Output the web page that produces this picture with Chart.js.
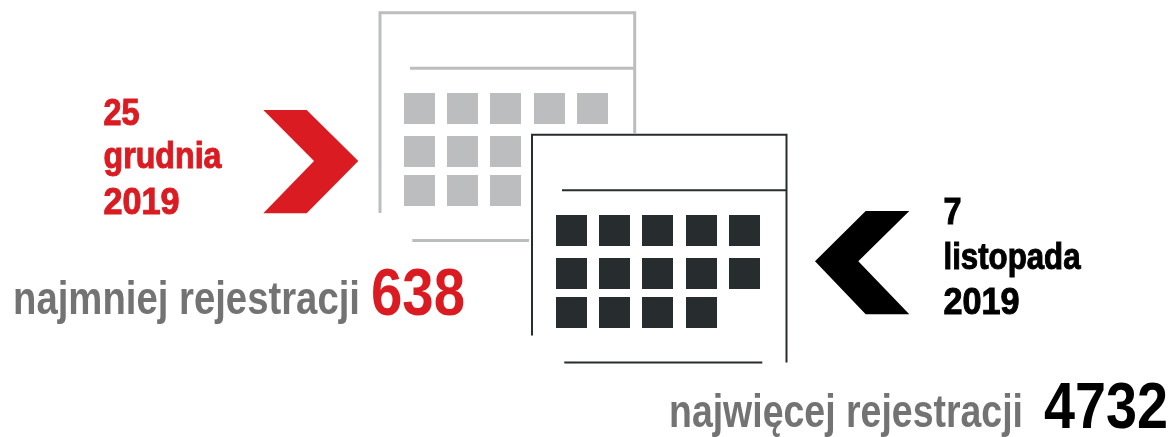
<!DOCTYPE html>
<html lang="pl">
<head>
<meta charset="utf-8">
<title>Rejestracje</title>
<script src="https://cdn.jsdelivr.net/npm/chart.js@4"></script>
<style>
  html, body { margin: 0; padding: 0; background: #fff; }
  canvas { display: block; }
</style>
</head>
<body>
<canvas id="chart" width="1173" height="437"></canvas>
<script>
// Data
const lowCount  = 638;
const highCount = 4732;
const lowDate   = ['25', 'grudnia', '2019'];
const highDate  = ['7', 'listopada', '2019'];
const lowLabel  = 'najmniej rejestracji';
const highLabel = 'najwięcej rejestracji';

// Days visible per row of each calendar
const lowRowDays  = [5, 3, 3];
const highRowDays = [5, 5, 4];

// Colours
const RED   = '#da1c22';
const BLACK = '#000000';
const GREY  = '#737373';
const LIGHT = '#bcbdbf';
const DARK  = '#272c2f';

// Layout, in picture units (the scales below run over the whole picture)
const colOffsets = [0, 43, 86, 130, 173];
const rowOffsets = [0, 43, 82];
const lowOrigin  = { x: 419.5, y: 108.5 };
const highOrigin = { x: 571.5, y: 230.5 };

function cells(rowDays, origin) {
  const pts = [];
  rowDays.forEach((n, r) => {
    colOffsets.slice(0, n).forEach(c => pts.push({ x: origin.x + c, y: origin.y + rowOffsets[r] }));
  });
  return pts;
}

function path(list) {
  return list.map(p => p ? { x: p[0], y: p[1] } : { x: null, y: null });
}

const lowFrame = path([
  [380, 213], [380, 12.7], [634.7, 12.7], [634.7, 134], null,
  [410, 68.3], [634.7, 68.3], null,
  [412.3, 240.6], [529, 240.6]
]);
const highFrame = path([
  [532, 335.5], [532, 134.7], [786.5, 134.7], [786.5, 362.6], null,
  [562, 190.3], [786.5, 190.3], null,
  [564.3, 362.6], [762.3, 362.6]
]);
const lowArrow = path([
  [263.3, 110], [306.7, 110], [358.3, 161], [306.7, 213.3], [263.3, 213.3], [314, 161], [263.3, 110]
]);
const highArrow = path([
  [909.3, 211], [865.7, 211], [815, 261.3], [865.7, 314.3], [909.3, 314.3], [858.3, 261.3], [909.3, 211]
]);

// Text: x, baseline y, width on the picture, extra stroke for the heavier dates
const NARROW = '"Liberation Sans Narrow", "Liberation Sans", sans-serif';
const texts = [
  { t: lowDate[0],  x: 103.5, y: 124.5, w: 36,  size: 36, color: RED, heavy: 1 },
  { t: lowDate[1],  x: 103.5, y: 168,   w: 118, size: 36, color: RED, heavy: 1 },
  { t: lowDate[2],  x: 103.5, y: 213.5, w: 76,  size: 36, color: RED, heavy: 1 },
  { t: highDate[0], x: 943.5, y: 224,   w: 18,  size: 36, color: BLACK, heavy: 1 },
  { t: highDate[1], x: 943.5, y: 268.5, w: 137, size: 36, color: BLACK, heavy: 1 },
  { t: highDate[2], x: 943.5, y: 313.5, w: 76,  size: 36, color: BLACK, heavy: 1 },
  { t: lowLabel,    x: 13,  y: 314,   w: 347, size: 47, color: GREY },
  { t: String(lowCount),  x: 371,  y: 314.5, w: 94,  size: 66, color: RED },
  { t: highLabel,   x: 669, y: 427,   w: 354, size: 47, color: GREY },
  { t: String(highCount), x: 1044, y: 428, w: 124, size: 64, color: BLACK }
];

const textPlugin = {
  id: 'pageText',
  afterDatasetsDraw(chart) {
    const { ctx, scales } = chart;
    texts.forEach(l => {
      ctx.save();
      ctx.font = 'bold ' + l.size + 'px ' + NARROW;
      ctx.fillStyle = l.color;
      ctx.strokeStyle = l.color;
      ctx.textBaseline = 'alphabetic';
      ctx.textAlign = 'left';
      const natural = ctx.measureText(l.t).width;
      ctx.translate(scales.x.getPixelForValue(l.x), scales.y.getPixelForValue(l.y));
      ctx.scale(l.w / natural, 1);
      ctx.fillText(l.t, 0, 0);
      if (l.heavy) {
        ctx.lineWidth = l.heavy;
        ctx.strokeText(l.t, 0, 0);
      }
      ctx.restore();
    });
  }
};

function lineSet(data, color, width) {
  return { data, borderColor: color, borderWidth: width, pointRadius: 0, showLine: true, spanGaps: false, tension: 0, fill: false };
}
function arrowSet(data, color) {
  return { data, borderColor: color, borderWidth: 0, backgroundColor: color, pointRadius: 0, showLine: true, tension: 0, fill: 'shape' };
}
function cellSet(data, color) {
  return { data, pointStyle: 'rect', pointRadius: 31 / Math.SQRT2, pointBorderWidth: 0, pointBackgroundColor: color, showLine: false };
}

new Chart(document.getElementById('chart'), {
  type: 'scatter',
  data: {
    datasets: [
      lineSet(lowFrame, LIGHT, 3),
      cellSet(cells(lowRowDays, lowOrigin), LIGHT),
      lineSet(highFrame, DARK, 2),
      cellSet(cells(highRowDays, highOrigin), DARK),
      arrowSet(lowArrow, RED),
      arrowSet(highArrow, BLACK)
    ]
  },
  options: {
    responsive: false,
    animation: false,
    layout: { padding: 0, autoPadding: false },
    scales: {
      x: { type: 'linear', display: false, min: 0, max: 1173 },
      y: { type: 'linear', display: false, min: 0, max: 437, reverse: true }
    },
    plugins: { legend: { display: false }, tooltip: { enabled: false } }
  },
  plugins: [textPlugin]
});
</script>
</body>
</html>
